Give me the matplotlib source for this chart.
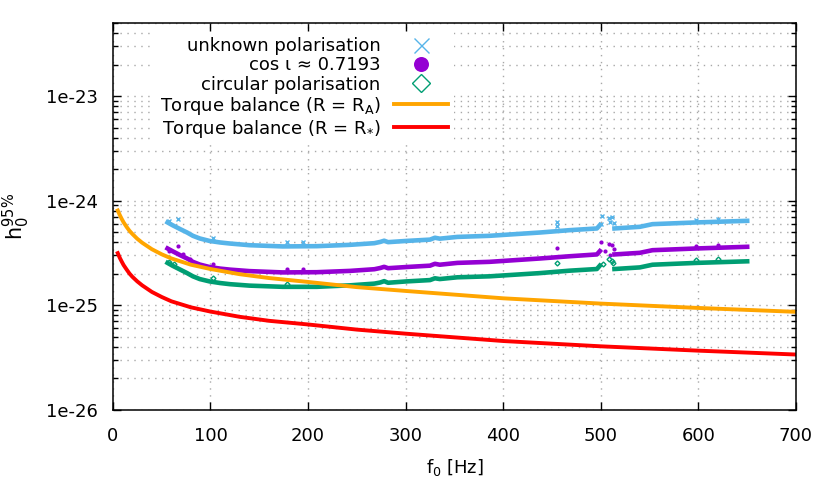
import numpy as np
import matplotlib
matplotlib.use("Agg")
import matplotlib.pyplot as plt
from matplotlib.ticker import FixedLocator, FuncFormatter, NullFormatter

nan = float("nan")

# search band (shared frequencies, gap around 500-512 Hz)
f_band = [56, 61, 69, 76, 82, 89, 99, 110, 120, 140, 174, 209, 243, 268, 274, 278,
          282, 301, 325, 330, 335, 353, 386, 438, 468, 496, 499, nan,
          514, 540, 553, 571, 598, 650]
h_unknown = [6.19, 5.83, 5.34, 4.96, 4.61, 4.35, 4.12, 3.98, 3.89, 3.75, 3.65, 3.67,
             3.78, 3.92, 4.03, 4.14, 4.01, 4.12, 4.24, 4.42, 4.33, 4.50, 4.61, 4.96,
             5.22, 5.42, 5.83, nan, 5.42, 5.62, 5.96, 6.05, 6.19, 6.41]
h_cosi = [3.49, 3.29, 3.01, 2.80, 2.60, 2.45, 2.32, 2.24, 2.19, 2.12, 2.06, 2.07,
          2.13, 2.21, 2.27, 2.33, 2.26, 2.32, 2.39, 2.49, 2.44, 2.54, 2.60, 2.80,
          2.94, 3.06, 3.29, nan, 3.06, 3.17, 3.36, 3.41, 3.49, 3.62]
h_circ = [2.54, 2.39, 2.19, 2.03, 1.89, 1.78, 1.69, 1.63, 1.59, 1.54, 1.50, 1.50,
          1.55, 1.61, 1.65, 1.70, 1.64, 1.69, 1.74, 1.81, 1.78, 1.85, 1.89, 2.03,
          2.14, 2.22, 2.39, nan, 2.22, 2.30, 2.44, 2.48, 2.54, 2.63]

# scattered points sticking out of the bands
f_out_unknown = [58, 67, 103, 178, 195, 455, 455, 501, 508, 511, 509, 514, 500, 598, 620]
h_out_unknown = [6.41, 6.65, 4.44, 3.98, 3.98, 6.27, 5.74, 7.15, 6.75, 6.91, 6.19, 6.09,
                 5.96, 6.55, 6.65]
f_out_cosi = [67, 58, 72, 79, 103, 178, 195, 455, 500, 508, 511, 504, 514, 509, 598, 620]
h_out_cosi = [3.69, 3.31, 3.08, 2.76, 2.47, 2.21, 2.21, 3.49, 3.98, 3.83, 3.78, 3.31,
              3.44, 3.01, 3.69, 3.78]
f_out_circ = [58, 63, 103, 178, 455, 508, 511, 502, 513, 598, 620]
h_out_circ = [2.60, 2.47, 1.84, 1.59, 2.56, 2.76, 2.65, 2.47, 2.52, 2.71, 2.76]

# torque balance curves
f_torque = [5, 7, 9, 11, 14, 17, 20, 25, 30, 40, 50, 60, 80, 100, 130, 160, 200,
            250, 300, 400, 500, 600, 700]
h_torque_A = [8.05, 7.30, 6.70, 6.20, 5.62, 5.15, 4.80, 4.32, 3.96, 3.43, 3.07, 2.80,
              2.44, 2.22, 1.98, 1.82, 1.67, 1.49, 1.37, 1.165, 1.037, 0.942, 0.865]
h_torque_star = [3.15, 2.85, 2.62, 2.42, 2.20, 2.01, 1.87, 1.69, 1.55, 1.34, 1.20, 1.09,
                 0.955, 0.87, 0.775, 0.71, 0.655, 0.585, 0.535, 0.455, 0.405, 0.368, 0.338]

c_blue = "#56b4e9"
c_purple = "#9400d3"
c_green = "#009e73"
c_orange = "#ffa500"
c_red = "#ff0000"

scale = 1e-25
plt.rcParams["font.family"] = "DejaVu Sans"
plt.rcParams["font.size"] = 13

fig = plt.figure(figsize=(8.3, 4.98), dpi=100)
ax = fig.add_axes([0.136, 0.177, 0.823, 0.777])

fb = np.array(f_band)
ax.plot(fb, np.array(h_unknown) * scale, color=c_blue, lw=3.3)
ax.plot(fb, np.array(h_cosi) * scale, color=c_purple, lw=3.3)
ax.plot(fb, np.array(h_circ) * scale, color=c_green, lw=3.3)

ax.plot(f_out_unknown, np.array(h_out_unknown) * scale, ls="none", marker="x",
        ms=3, mew=1, color=c_blue, label="unknown polarisation")
ax.plot(f_out_cosi, np.array(h_out_cosi) * scale, ls="none", marker="o",
        ms=3, mew=0, color=c_purple, label="cos ι ≈ 0.7193")
ax.plot(f_out_circ, np.array(h_out_circ) * scale, ls="none", marker="D",
        ms=2.5, mew=1, mfc="none", color=c_green, label="circular polarisation")

ax.plot(f_torque, np.array(h_torque_A) * scale, color=c_orange, lw=2.8,
        label=r"Torque balance (R = R$_\mathregular{A}$)")
ax.plot(f_torque, np.array(h_torque_star) * scale, color=c_red, lw=2.8,
        label=r"Torque balance (R = R$_{*}$)")

ax.set_yscale("log")
ax.set_xlim(0, 700)
ax.set_ylim(1e-26, 5e-23)

ax.xaxis.set_major_locator(FixedLocator(np.arange(0, 701, 100)))
ax.yaxis.set_major_locator(FixedLocator([1e-26, 1e-25, 1e-24, 1e-23]))
minor = [m * 10.0 ** e for e in range(-26, -22) for m in range(2, 10)]
ax.yaxis.set_minor_locator(FixedLocator([v for v in minor if v <= 5e-23]))
ax.yaxis.set_major_formatter(FuncFormatter(lambda v, p: "1e%d" % round(np.log10(v))))
ax.yaxis.set_minor_formatter(NullFormatter())

ax.tick_params(which="both", direction="in", top=True, right=True, labelsize=13)
ax.tick_params(which="major", length=6, width=1)
ax.tick_params(which="minor", length=3.5, width=1)
ax.tick_params(axis="x", pad=12)
ax.tick_params(axis="y", pad=11)

ax.grid(True, axis="x", which="major", color="#a8a8a8", ls=(0, (1, 4)), lw=1)
ax.grid(True, axis="y", which="both", color="#a8a8a8", ls=(0, (1, 4)), lw=1)
ax.set_axisbelow(True)

for s in ax.spines.values():
    s.set_linewidth(1.1)

ax.set_xlabel(r"$\mathregular{f_0}$ [Hz]", fontsize=13, labelpad=9)
ax.set_ylabel(r"$\mathregular{h_0^{95\%}}$", fontsize=15, labelpad=10)

leg = ax.legend(loc="upper right", bbox_to_anchor=(0.512, 1.0), markerfirst=False,
                frameon=True, fancybox=False, edgecolor="none", facecolor="white",
                framealpha=1, handlelength=3.0, handletextpad=0.75, labelspacing=0.06,
                borderpad=0.3, markerscale=3.6, fontsize=13)

fig.savefig("out.png", dpi=100)
